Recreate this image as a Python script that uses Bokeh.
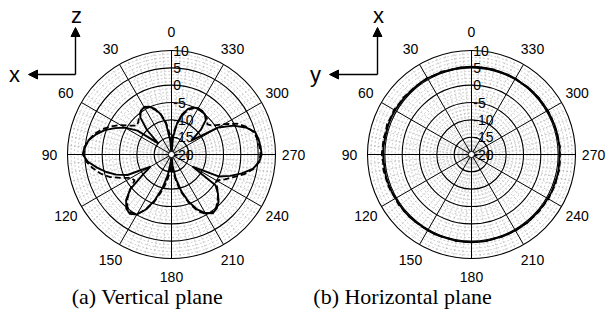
import numpy as np
from bokeh.plotting import figure
from bokeh.layouts import row
from bokeh.models import Range1d, Arrow, NormalHead
from bokeh.core.properties import value
from bokeh.embed import file_html
from bokeh.resources import INLINE

# ---- data -----------------------------------------------------------------
ANGLES = list(range(0, 360, 5))  # degrees, 0 at top, counter-clockwise

# Vertical plane (dB)
VERT_SIM = [
    -20, -16, -11, -8.0, -6.0, -4.8, -4.2, -4.6, -6.0, -10, -15, -8.0,
    -4.5, -2.0, 0.5, 2.5, 4.2, 5.2, 5.6, 4.2, 1.8, -0.5, -3.0, -6.0,
    -13, -10, -4.5, -1.5, 0.3, 0.9, 0.0, -2.5, -6.0, -10, -14, -18,
    -20, -17, -13, -9.0, -5.5, -2.5, -0.5, 0.7, 0.3, -0.8, -2.5, -4.5,
    -13, -5.0, -2.0, 1.0, 3.8, 5.4, 6.0, 5.8, 5.5, 5.0, 2.8, -0.3,
    -4.4, -13, -9.0, -6.0, -5.0, -4.6, -4.6, -5.0, -6.0, -8.0, -11, -15,
]
VERT_MEAS = [
    -17, -14, -10.5, -8.0, -6.3, -5.0, -4.4, -4.6, -5.5, -6.5, -7.0, -5.5,
    -3.0, -0.8, 1.3, 3.0, 4.2, 5.0, 5.4, 4.6, 3.0, 1.2, -1.0, -4.0,
    -6.5, -7.0, -4.5, -2.0, -0.2, 0.5, -0.2, -2.5, -5.5, -9.0, -12, -15,
    -17, -15, -12, -8.5, -5.0, -2.0, -0.2, 0.4, 0.0, -1.2, -2.5, -4.0,
    -5.0, -3.0, -1.0, 1.8, 4.0, 5.2, 5.7, 5.5, 5.2, 4.6, 3.2, 1.0,
    -2.5, -5.5, -6.5, -5.5, -5.0, -4.8, -4.8, -5.3, -6.3, -8.5, -11, -14,
]

# Horizontal plane (dB)
HORZ_SIM = [
    5.3, 5.3, 5.2, 5.2, 5.3, 5.3, 5.4, 5.4, 5.3, 5.3, 5.4, 5.4,
    5.5, 5.5, 5.5, 5.4, 5.4, 5.5, 5.5, 5.4, 5.4, 5.5, 5.4, 5.4,
    5.3, 5.3, 5.4, 5.3, 5.3, 5.2, 5.3, 5.3, 5.2, 5.2, 5.3, 5.3,
    5.3, 5.3, 5.3, 5.2, 5.2, 5.3, 5.3, 5.3, 5.4, 5.3, 5.3, 5.4,
    5.4, 5.5, 5.4, 5.5, 5.5, 5.4, 5.4, 5.5, 5.4, 5.4, 5.4, 5.3,
    5.4, 5.3, 5.3, 5.3, 5.3, 5.2, 5.3, 5.3, 5.2, 5.3, 5.3, 5.3,
]
HORZ_MEAS = [
    5.2, 5.4, 5.3, 5.1, 5.4, 5.2, 5.5, 5.3, 5.5, 5.4, 5.6, 5.5,
    5.8, 5.6, 5.9, 5.6, 5.8, 5.7, 5.9, 5.6, 5.8, 5.6, 5.7, 5.5,
    5.4, 5.5, 5.3, 5.4, 5.2, 5.3, 5.1, 5.3, 5.2, 5.1, 5.3, 5.2,
    5.3, 5.2, 5.4, 5.1, 5.3, 5.2, 5.4, 5.2, 5.5, 5.3, 5.5, 5.4,
    5.6, 5.5, 5.7, 5.5, 5.7, 5.6, 5.5, 5.6, 5.4, 5.5, 5.3, 5.4,
    5.3, 5.2, 5.4, 5.2, 5.3, 5.1, 5.3, 5.2, 5.2, 5.3, 5.2, 5.3,
]

RING_DB = [10, 5, 0, -5, -10, -15, -20]
SPOKE_ANGLES = list(range(0, 360, 30))
SPOKE_LABELS = [str(a) for a in SPOKE_ANGLES]

DB_MIN, DB_MAX = -20, 10

# ---- layout constants (pixels) ---------------------------------------------
W, H = 305, 320
K = 104 / (DB_MAX - DB_MIN)   # pixels per dB
FONT = "Liberation Sans"


def polar_xy(angles_deg, db):
    th = np.radians(np.asarray(angles_deg, dtype=float))
    r = np.clip(np.asarray(db, dtype=float) - DB_MIN, 0, None)
    return -r * np.sin(th), r * np.cos(th)


def polar_panel(cx, cy, sim, meas, caption, cap_x, ax_up, ax_left, ax_px):
    p = figure(width=W, height=H, output_backend="svg", toolbar_location=None,
               x_range=Range1d(-cx / K, (W - cx) / K),
               y_range=Range1d(-(H - cy) / K, cy / K),
               min_border=0, outline_line_color=None,
               background_fill_color="white", border_fill_color="white")
    p.axis.visible = False
    p.grid.visible = False

    def to_data(px, py):
        return (px - cx) / K, (cy - py) / K

    # minor grid: dashed circles each dB, dashed spokes every 5 degrees
    minor_r = [d - DB_MIN for d in range(DB_MIN + 1, DB_MAX) if d % 5 != 0]
    p.circle(x=0, y=0, radius=minor_r, fill_color=None, line_color="#a8a8a8",
             line_width=0.6, line_dash="2 2")
    minor_a = [a for a in range(0, 360, 5) if a % 30 != 0]
    mx, my = polar_xy(minor_a, [DB_MAX] * len(minor_a))
    p.multi_line(xs=[[0, x] for x in mx], ys=[[0, y] for y in my],
                 line_color="#a8a8a8", line_width=0.6, line_dash="2 2")

    # major grid
    major_r = [d - DB_MIN for d in RING_DB if d > DB_MIN]
    p.circle(x=0, y=0, radius=major_r, fill_color=None, line_color="black",
             line_width=1.1)
    sx, sy = polar_xy(SPOKE_ANGLES, [DB_MAX] * len(SPOKE_ANGLES))
    p.multi_line(xs=[[0, x] for x in sx], ys=[[0, y] for y in sy],
                 line_color="black", line_width=1.0)

    # pattern curves
    a_closed = ANGLES + [ANGLES[0] + 360]
    x1, y1 = polar_xy(a_closed, meas + [meas[0]])
    p.line(x1, y1, line_color="black", line_width=1.8, line_dash="6 3")
    x0, y0 = polar_xy(a_closed, sim + [sim[0]])
    p.line(x0, y0, line_color="black", line_width=1.9)

    # centre marker
    p.circle(x=0, y=0, radius=0.9, fill_color="white", line_color="black",
             line_width=1.0)

    # ring labels along the 0-degree spoke
    p.text(x=[0.5] * len(RING_DB), y=[d - DB_MIN for d in RING_DB],
           text=[str(d) for d in RING_DB], text_align="left",
           text_baseline="middle", text_font=value(FONT),
           text_font_size="14px", text_color="black")

    # angle labels
    lx, ly = polar_xy(SPOKE_ANGLES, [DB_MAX + 5.2] * len(SPOKE_ANGLES))
    p.text(x=lx, y=ly, text=SPOKE_LABELS, text_align="center",
           text_baseline="middle", text_font=value(FONT),
           text_font_size="14px", text_color="black")

    # coordinate indicator
    ox, oy, tip_up, tip_left = ax_px
    x0p, y0p = to_data(ox, oy)
    xu, yu = to_data(ox, tip_up)
    xl, yl = to_data(tip_left, oy)
    for xe, ye in [(xu, yu), (xl, yl)]:
        p.add_layout(Arrow(end=NormalHead(size=9, fill_color="black",
                                          line_color="black", line_width=1),
                           x_start=x0p, y_start=y0p, x_end=xe, y_end=ye,
                           line_color="black", line_width=1.4))
    tux, tuy = to_data(ox + 1, tip_up - 12)
    tlx, tly = to_data(tip_left - 14, oy)
    p.text(x=[tux, tlx], y=[tuy, tly], text=[ax_up, ax_left],
           text_align="center", text_baseline="middle",
           text_font=value(FONT), text_font_size="22px", text_color="black")

    # caption
    cx_d, cy_d = to_data(cap_x, 296)
    p.text(x=[cx_d], y=[cy_d], text=[caption], text_align="center",
           text_baseline="middle", text_font=value("Liberation Serif"),
           text_font_size="22px", text_color="black")
    return p


left = polar_panel(171, 154, VERT_SIM, VERT_MEAS, "(a) Vertical plane", 147,
                   "z", "x", (75, 74, 27, 28))
right = polar_panel(166, 154, HORZ_SIM, HORZ_MEAS, "(b) Horizontal plane", 97,
                    "x", "y", (72, 74, 27, 24))

layout = row(left, right, spacing=0)
open("out.html", "w").write(file_html(layout, INLINE))
